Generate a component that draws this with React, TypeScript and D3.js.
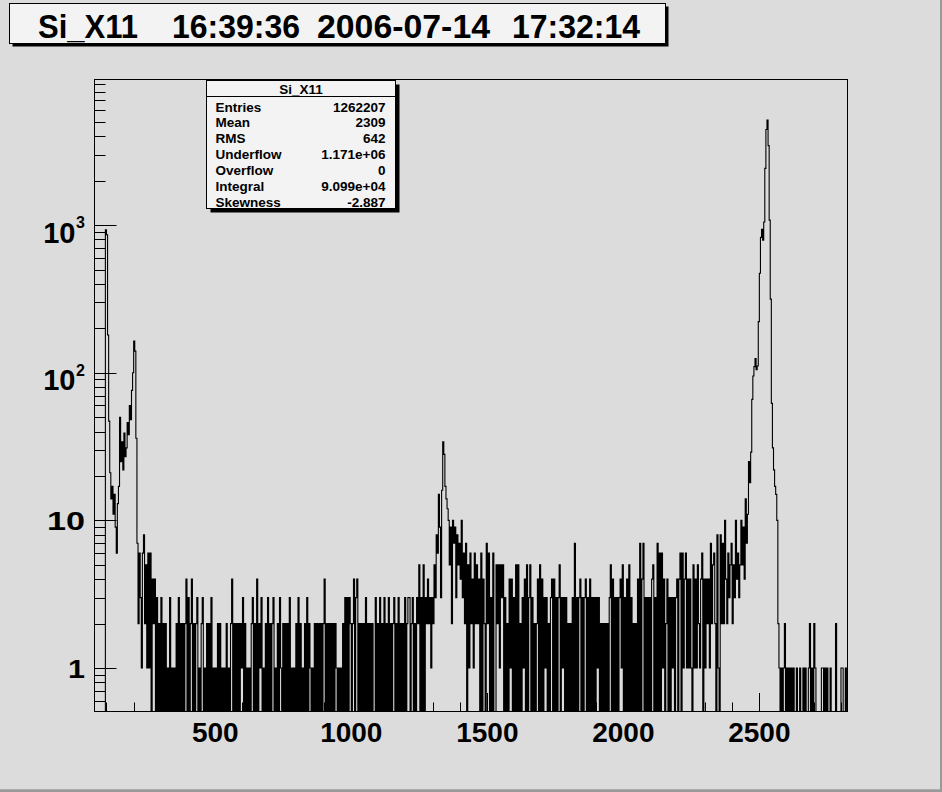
import React from 'react';
import * as d3 from 'd3';

// ---------- canvas / axis ranges ----------
const WIDTH = 942;
const HEIGHT = 792;
const X_MIN = 56;
const X_MAX = 2824;
const BIN_WIDTH = 4;
const Y_MIN = 0.508;
const Y_MAX = 9680;

// ---------- text content ----------
const titleParts = ['Si_X11', '16:39:36', '2006-07-14', '17:32:14'];
const titlePartX = [38, 172, 317, 512];
const titlePartW = [100, 128, 173, 128];
const statsName = 'Si_X11';
const statsLabels = ['Entries', 'Mean', 'RMS', 'Underflow', 'Overflow', 'Integral', 'Skewness'];
const statsValues = ['1262207', '2309', '642', '1.171e+06', '0', '9.099e+04', '-2.887'];
const xTickLabels = [500, 1000, 1500, 2000, 2500];
const yTickLabels = [
  { v: 1, base: '1', exp: '' },
  { v: 10, base: '10', exp: '' },
  { v: 100, base: '10', exp: '2' },
  { v: 1000, base: '10', exp: '3' },
];

// ---------- histogram counts (4-channel bins) ----------
// bins 0..38 : low-energy region
const countsLow = [
  0, 0, 0, 0, 0, 0, 0, 0, 0, 0,
  930, 860, 180, 47, 21, 14, 17, 11, 15, 9,
  6, 13, 17, 50, 25, 34, 22, 39, 27, 31,
  46, 38, 60, 48, 76, 100, 164, 140, 36,
];
// bins 39..305 : flat noise (one digit per bin)
const countsFlat =
  '726316825161 604240 ' +
  '3020302020 1030101020 3020202403 0240202301 0230102020 ' +
  '3010102020 1010201024 0202020213 0201010230 2040213010 ' +
  '2030202301 0203102020 2030101020 3020102030 2101020202 ' +
  '0202402020 2020210101 0203030320 2403402020 2030202020 ' +
  '0302030203 0203020230 2030202030 2330230203 250305032';
// bins 306..357 : peak near channel 1330
const countsPeak1 = [
  4, 2, 3, 1, 3, 2, 5, 3, 8, 6,
  15, 9, 3, 16, 34, 28, 17, 14, 12, 10,
  5, 9, 2, 10, 7, 9, 3, 8, 5, 7,
  4, 10, 3, 6, 2, 7, 0, 5, 1, 6,
  2, 4, 1, 6, 2, 5, 2, 4, 0, 6,
  0, 4,
];
// bins 358..577 : middle noise (one digit per bin)
const countsMid =
  '2072603060 0525153503 0204140305 0502031405 0350302024 ' +
  '0504031302 0340403035 0313030202 0307030340 3034030403 ' +
  '0303130202 0202035040 3030341503 0405030202 0407047030 ' +
  '3030450307 0606140240 3031303404 6061461414 1051415214 ' +
  '6041424172 5620810827';
// bins 578..592 : rise before the main peak
const countsRise = [2, 10, 4, 2, 6, 3, 5, 7, 2, 5, 3, 10, 4, 6, 3];
// bins 593..629 : main peak near channel 2525
const countsPeak2 = [
  5, 10, 5, 9, 4, 14, 7, 11, 25, 18,
  29, 66, 95, 110, 125, 105, 111, 222, 472, 826,
  935, 790, 1050, 2420, 4440, 5150, 3450, 1080, 315, 62,
  31, 22, 17, 15, 10, 2, 1,
];
// bins 630..691 : tail (one digit per bin)
const countsTail =
  '0101201010 1010010010 0101001201 0210000011 0101001000 0200001100 10';

const digits = (s: string) => s.replace(/\s+/g, '').split('').map(Number);

const segments = [
  { start: 0, counts: countsLow },
  { start: 39, counts: digits(countsFlat) },
  { start: 306, counts: countsPeak1 },
  { start: 358, counts: digits(countsMid) },
  { start: 578, counts: countsRise },
  { start: 593, counts: countsPeak2 },
  { start: 630, counts: digits(countsTail) },
];

// ---------- layout ----------
const FRAME = { left: 94.5, right: 847.5, top: 79.5, bottom: 711.5 };
const FONT = "'Liberation Sans', Arial, Helvetica, sans-serif";
const BG = '#dcdcdc';

export default function App() {
  const nBins = Math.round((X_MAX - X_MIN) / BIN_WIDTH);
  const counts: number[] = new Array(nBins).fill(0);
  segments.forEach((s) =>
    s.counts.forEach((c, k) => {
      if (s.start + k < nBins) counts[s.start + k] = c;
    })
  );

  const x = d3.scaleLinear().domain([X_MIN, X_MAX]).range([FRAME.left, FRAME.right]);
  const y = d3.scaleLog().domain([Y_MIN, Y_MAX]).range([FRAME.bottom, FRAME.top]).clamp(true);

  let path = '';
  counts.forEach((c, i) => {
    const x0 = x(X_MIN + i * BIN_WIDTH);
    const x1 = x(X_MIN + (i + 1) * BIN_WIDTH);
    const yy = c > 0 ? y(c) : FRAME.bottom;
    path += `${i === 0 ? 'M' : 'L'}${x0.toFixed(2)},${yy.toFixed(2)}L${x1.toFixed(2)},${yy.toFixed(2)}`;
  });

  const xTicks = d3.range(100, X_MAX, 100);
  const yTicks = y.ticks();

  const statsBox = { left: 206.5, top: 80.5, right: 395.5, bottom: 208.5 };

  return (
    <svg
      width={WIDTH}
      height={HEIGHT}
      viewBox={`0 0 ${WIDTH} ${HEIGHT}`}
      style={{ position: 'absolute', left: 0, top: 0, display: 'block' }}
    >
      <rect x={0} y={0} width={WIDTH} height={HEIGHT} fill={BG} />
      <rect x={WIDTH - 2} y={0} width={2} height={HEIGHT} fill="#999999" />
      <rect x={0} y={HEIGHT - 2.7} width={WIDTH} height={2.7} fill="#999999" />

      {/* frame */}
      <rect
        x={FRAME.left}
        y={FRAME.top}
        width={FRAME.right - FRAME.left}
        height={FRAME.bottom - FRAME.top}
        fill={BG}
        stroke="#000"
        strokeWidth={1}
      />

      {/* histogram */}
      <path d={path} fill="none" stroke="#000" strokeWidth={1.1} strokeLinejoin="miter" />

      {/* x ticks */}
      {xTicks.map((v) => {
        const major = v % 500 === 0;
        const xx = Math.round(x(v)) + 0.5;
        return (
          <line
            key={`xt${v}`}
            x1={xx}
            x2={xx}
            y1={FRAME.bottom}
            y2={FRAME.bottom - (major ? 18.5 : 9)}
            stroke="#000"
            strokeWidth={1}
          />
        );
      })}
      {/* y ticks */}
      {yTicks.map((v) => {
        const lg = Math.log10(v);
        const major = Math.abs(lg - Math.round(lg)) < 1e-9;
        const yy = Math.round(y(v)) + 0.5;
        return (
          <line
            key={`yt${v}`}
            x1={FRAME.left}
            x2={FRAME.left + (major ? 22 : 11)}
            y1={yy}
            y2={yy}
            stroke="#000"
            strokeWidth={1}
          />
        );
      })}

      {/* x labels */}
      {xTickLabels.map((v) => (
        <text
          key={`xl${v}`}
          x={x(v)}
          y={741.5}
          textAnchor="middle"
          fontFamily={FONT}
          fontWeight="bold"
          fontSize={28}
          fill="#000"
        >
          {v}
        </text>
      ))}

      {/* y labels */}
      {yTickLabels.map((t) => {
        const yy = y(t.v);
        if (t.exp) {
          return (
            <text key={`yl${t.v}`} fontFamily={FONT} fontWeight="bold" fill="#000">
              <tspan x={75.5} y={yy + 17.7} textAnchor="end" fontSize={29}>
                {t.base}
              </tspan>
              <tspan x={76} y={yy + 3} fontSize={16}>
                {t.exp}
              </tspan>
            </text>
          );
        }
        const w = t.base.length === 1 ? 17 : 38;
        return (
          <text
            key={`yl${t.v}`}
            x={85 - w}
            y={yy + 9.5}
            textLength={w}
            lengthAdjust="spacingAndGlyphs"
            fontFamily={FONT}
            fontWeight="bold"
            fontSize={25.5}
            fill="#000"
          >
            {t.base}
          </text>
        );
      })}

      {/* stats box */}
      <rect
        x={statsBox.left + 4}
        y={statsBox.top + 4}
        width={statsBox.right - statsBox.left}
        height={statsBox.bottom - statsBox.top}
        fill="#000"
      />
      <rect
        x={statsBox.left}
        y={statsBox.top}
        width={statsBox.right - statsBox.left}
        height={statsBox.bottom - statsBox.top}
        fill="#f3f3f3"
        stroke="#000"
        strokeWidth={1}
      />
      <line x1={statsBox.left} x2={statsBox.right} y1={96.5} y2={96.5} stroke="#000" strokeWidth={1} />
      <text
        x={(statsBox.left + statsBox.right) / 2}
        y={94}
        textAnchor="middle"
        fontFamily={FONT}
        fontWeight="bold"
        fontSize={13.5}
        fill="#000"
      >
        {statsName}
      </text>
      {statsLabels.map((lab, k) => (
        <g key={`st${lab}`}>
          <text x={215.5} y={111.5 + 15.95 * k} fontFamily={FONT} fontWeight="bold" fontSize={13.5} fill="#000">
            {lab}
          </text>
          <text
            x={385.5}
            y={111.5 + 15.95 * k}
            textAnchor="end"
            fontFamily={FONT}
            fontWeight="bold"
            fontSize={13.5}
            fill="#000"
          >
            {statsValues[k]}
          </text>
        </g>
      ))}

      {/* title box */}
      <rect x={12.5} y={6.5} width={656} height={40} fill="#000" />
      <rect x={9.5} y={3.5} width={656} height={40} fill="#f3f3f3" stroke="#000" strokeWidth={1} />
      <text fontFamily={FONT} fontWeight="bold" fontSize={32.5} fill="#000">
        {titleParts.map((p, k) => (
          <tspan
            key={`tp${k}`}
            x={titlePartX[k]}
            y={38.3}
            textLength={titlePartW[k]}
            lengthAdjust="spacingAndGlyphs"
          >
            {p}
          </tspan>
        ))}
      </text>
    </svg>
  );
}
